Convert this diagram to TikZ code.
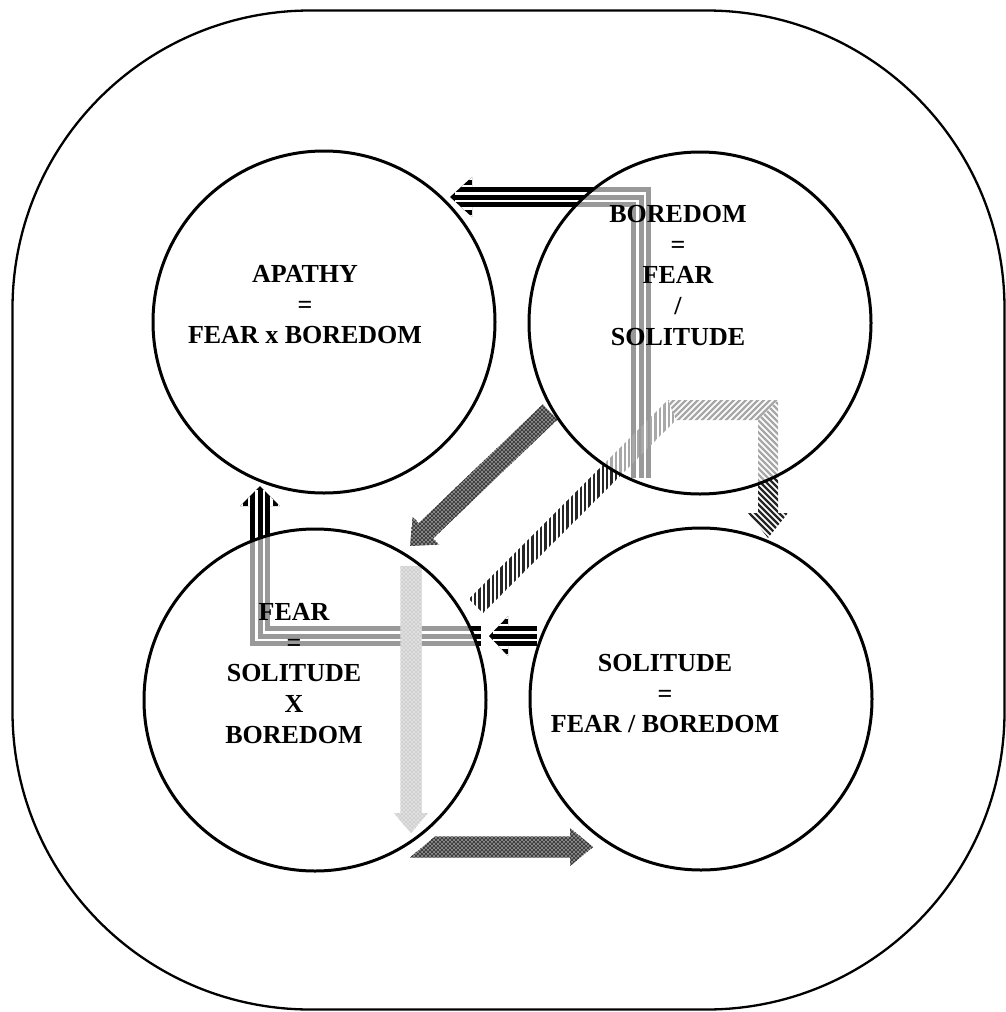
\documentclass[tikz,border=0pt]{standalone}
\usepackage{fontspec}
\setmainfont{Liberation Serif}
\usetikzlibrary{calc,patterns}

\pgfdeclarepatternformonly{xhatch}{\pgfpoint{-1pt}{-1pt}}{\pgfpoint{5pt}{5pt}}{\pgfpoint{4pt}{4pt}}{\pgfsetlinewidth{1.1pt}\pgfpathmoveto{\pgfpoint{-1pt}{-1pt}}\pgfpathlineto{\pgfpoint{5pt}{5pt}}\pgfpathmoveto{\pgfpoint{-1pt}{5pt}}\pgfpathlineto{\pgfpoint{5pt}{-1pt}}\pgfusepath{stroke}}

% #1 style, #2 start, #3 tip, #4 half shaft, #5 half head, #6 head length, #7 name
\newcommand\fatarrow[7]{%
  \coordinate (#7-h) at ($(#3)!#6!(#2)$);
  \path[#1] ($(#2)!#4!90:(#3)$) -- ($(#7-h)!#4!90:(#3)$) -- ($(#7-h)!#5!90:(#3)$) -- (#3)
    -- ($(#7-h)!#5!-90:(#3)$) -- ($(#7-h)!#4!-90:(#3)$) -- ($(#2)!#4!-90:(#3)$) -- cycle;
}

\tikzset{
  stripeshaft/.style={line width=20pt, black, line join=miter},
  stripegap/.style={draw=white, line width=2.5pt, double=black, double distance=5pt, line join=miter},
  headgap/.style={white, line width=2.5pt},
  hatchline/.style={line width=2.3pt, black!85},
  bubble/.style={circle, draw=black, line width=3pt, minimum size=342pt, inner sep=0pt,
    fill=white, fill opacity=0.6, draw opacity=1},
  lbl/.style={align=center, font=\bfseries\fontsize{26}{30.75}\selectfont, inner sep=0pt, anchor=north},
  checkdark/.style={preaction={fill=gray!35}, pattern=xhatch, pattern color=black!75},
  checklight/.style={preaction={fill=gray!30}, pattern=xhatch, pattern color=gray!90},
}

\begin{document}
\begin{tikzpicture}[x=1pt,y=-1pt]
\useasboundingbox (0,0) rectangle (1006,1012);

% outer frame
\node[draw, line width=2.3pt, rounded corners=298pt, minimum width=992pt, minimum height=999pt, inner sep=0pt] (frame) at (508.5,510) {};

% ---- arrow A : black striped bent arrow (Boredom -> Apathy)
\coordinate (aS) at (641,478);
\coordinate (aC) at (641,197);
\coordinate (aH) at (472,197);
\coordinate (aT) at (450,197);
\coordinate (aG) at (455,197);
\draw[stripeshaft] (aS) -- (aC) -- (aH);
\fill[black] (472,177) -- (aT) -- (472,217) -- cycle;
\draw[stripegap] (aS) -- (aC) -- (aG);
\begin{scope}
  \clip (472,177) -- (aT) -- (472,217) -- cycle;
  \foreach \d in {-18.75,-11.25,11.25,18.75} \draw[headgap] (445,197+\d) -- (475,197+\d);
\end{scope}

% ---- arrow D : black striped bent arrow (Fear -> Apathy)
\coordinate (dS) at (481,636);
\coordinate (dC) at (260,636);
\coordinate (dH) at (260,506);
\coordinate (dT) at (260,486);
\coordinate (dG) at (260,490);
\draw[stripeshaft] (dS) -- (dC) -- (dH);
\fill[black] (240,506) -- (dT) -- (280,506) -- cycle;
\draw[stripegap] (dS) -- (dC) -- (dG);
\begin{scope}
  \clip (240,506) -- (dT) -- (280,506) -- cycle;
  \foreach \d in {-18.75,-11.25,11.25,18.75} \draw[headgap] (260+\d,480) -- (260+\d,510);
\end{scope}

% ---- arrow E : short black striped arrow (Solitude -> Fear)
\coordinate (eS) at (537,636);
\coordinate (eH) at (508,636);
\coordinate (eT) at (489,636);
\coordinate (eG) at (493,636);
\draw[stripeshaft] (eS) -- (eH);
\fill[black] (508,616) -- (eT) -- (508,656) -- cycle;
\draw[stripegap] (eS) -- (eG);
\begin{scope}
  \clip (508,616) -- (eT) -- (508,656) -- cycle;
  \foreach \d in {-18.75,-11.25,11.25,18.75} \draw[headgap] (485,636+\d) -- (510,636+\d);
\end{scope}

% ---- arrow B : dark checkered diagonal (Boredom -> Fear)
\coordinate (bS) at (550,412);
\coordinate (bT) at (410,546);
\fatarrow{checkdark}{bS}{bT}{10.5pt}{19pt}{22pt}{arB}

% ---- arrow C : hatched bent arrow (Fear -> Boredom -> Solitude)
\begin{scope}
  \clip (468.9,598.9) -- (667.8,400) -- (676.2,420) -- (483.1,613.1) -- cycle;
  \foreach \x in {440,444.4,...,700} \draw[hatchline] (\x,380) -- (\x,640);
\end{scope}
\begin{scope}
  \clip (667.8,400) -- (778,400) -- (758,420) -- (676.2,420) -- cycle;
  \foreach \x in {620,626,...,800} \draw[hatchline] (\x,430) -- (\x+40,390);
\end{scope}
\begin{scope}
  \clip (778,400) -- (778,513) -- (788,513) -- (768,538) -- (748,513) -- (758,513) -- (758,420) -- cycle;
  \foreach \x in {560,566,...,800} \draw[hatchline] (\x,390) -- (\x+160,550);
\end{scope}

% ---- arrow F : light checkered vertical inside Fear
\coordinate (fS) at (411,566);
\coordinate (fT) at (411,833);
\fatarrow{checklight}{fS}{fT}{10.5pt}{17pt}{20pt}{arF}

% ---- arrow G : dark checkered arrow (Fear -> Solitude)
\coordinate (gT) at (593,847);
\path[checkdark] (435,836.5) -- (570,836.5) -- (570,828) -- (gT) -- (570,866) -- (570,857.5) -- (410,857.5) -- cycle;

% ---- circles
\node[bubble] (apathy) at (324,322) {};
\node[bubble] (boredom) at (700,323) {};
\node[bubble] (fear) at (315,700) {};
\node[bubble] (solitude) at (701,699) {};

% ---- texts
\node[lbl] (tA) at (305,265) {APATHY\\=\\FEAR x BOREDOM};
\node[lbl] (tB) at (678,205) {BOREDOM\\=\\FEAR\\/\\SOLITUDE};
\node[lbl] (tF) at (294,603) {FEAR\\=\\SOLITUDE\\X\\BOREDOM};
\node[lbl] (tS) at (665,654) {SOLITUDE\\=\\FEAR / BOREDOM};
\end{tikzpicture}
\end{document}
